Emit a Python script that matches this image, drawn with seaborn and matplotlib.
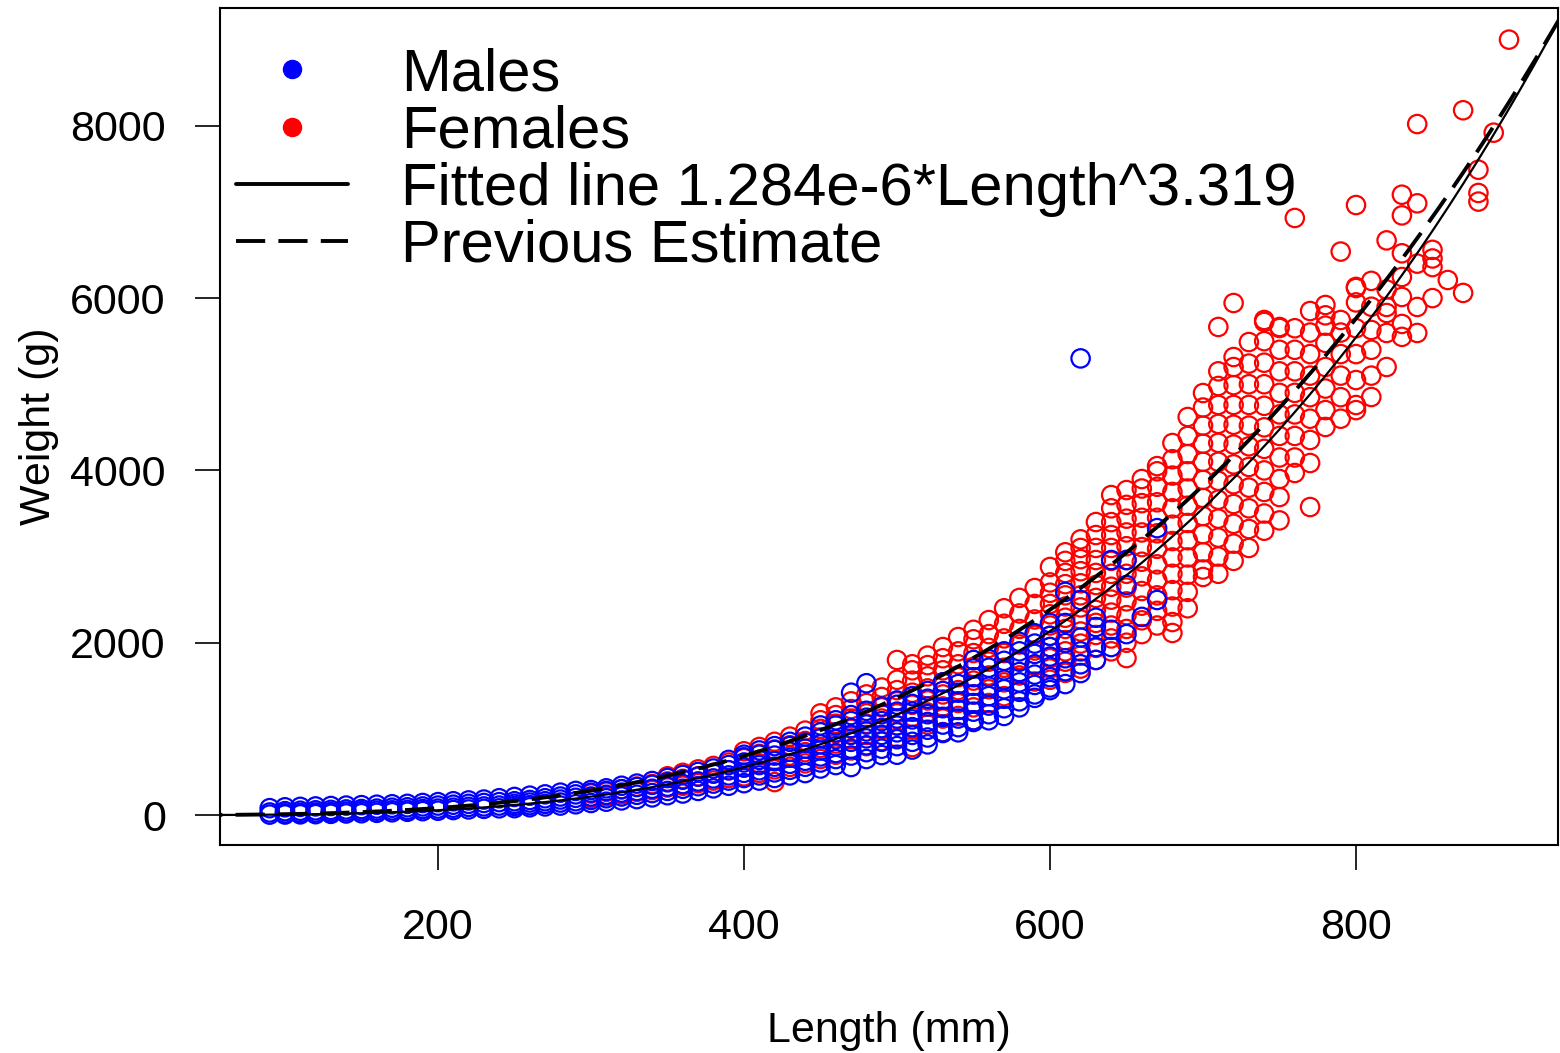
import numpy as np
import pandas as pd
import matplotlib
matplotlib.use("Agg")
import matplotlib.pyplot as plt
from matplotlib.lines import Line2D
import seaborn as sns

# ---------------- data ----------------
male_len = [90, 100, 110, 120, 130, 140, 150, 160, 170, 180, 190, 200, 210, 220, 230, 240,
            250, 260, 270, 280, 290, 300, 310, 320, 330, 340, 350, 360, 370, 380, 390, 400,
            410, 420, 430, 440, 450, 460, 470, 480, 490, 500, 510, 520, 530, 540, 550, 560,
            570, 580, 590, 600, 610, 620, 630, 640, 650, 660, 670]
male_wt = [
    [5, 30, 80], [6, 20, 45, 90], [8, 25, 50, 95], [10, 30, 55, 100], [14, 35, 60, 105],
    [18, 40, 65, 110], [21, 45, 70, 115], [26, 50, 75, 120], [32, 55, 85, 125],
    [38, 60, 90, 130], [45, 70, 100, 140], [50, 75, 110, 150],
    [58, 85, 120, 160], [65, 95, 130, 170], [72, 100, 140, 180], [78, 110, 150, 195],
    [80, 105, 130, 160, 210], [90, 115, 145, 175, 225], [100, 130, 160, 195, 240],
    [110, 145, 180, 215, 260],
    [125, 160, 200, 240, 280], [140, 175, 215, 260, 290], [155, 195, 235, 280, 310],
    [170, 215, 260, 300, 340], [185, 235, 280, 325, 365], [205, 255, 305, 350, 395],
    [230, 280, 330, 380, 430], [250, 305, 360, 410, 465], [280, 335, 390, 445, 500],
    [310, 365, 425, 480, 540], [340, 400, 460, 520, 580, 640],
    [370, 430, 490, 550, 610, 670, 700],
    [400, 460, 520, 580, 640, 700, 750],
    [430, 495, 560, 625, 690, 755, 800],
    [460, 525, 595, 665, 735, 800, 850],
    [487, 560, 630, 700, 770, 840, 910],
    [540, 610, 680, 750, 820, 890, 960, 1040],
    [580, 650, 720, 800, 880, 960, 1040, 1100],
    [557, 690, 770, 850, 930, 1010, 1090, 1160, 1420],
    [650, 730, 810, 890, 970, 1050, 1130, 1210, 1530],
    [696, 770, 850, 930, 1010, 1090, 1170, 1260],
    [700, 800, 880, 960, 1040, 1120, 1200, 1280, 1330],
    [760, 850, 930, 1020, 1110, 1200, 1290, 1380],
    [820, 900, 990, 1080, 1170, 1260, 1350, 1440],
    [952, 960, 1050, 1140, 1240, 1340, 1440, 1540],
    [960, 1020, 1120, 1220, 1320, 1420, 1520, 1620],
    [1080, 1100, 1200, 1300, 1400, 1500, 1600, 1700, 1800],
    [1100, 1170, 1270, 1380, 1490, 1600, 1710, 1810],
    [1150, 1240, 1350, 1460, 1570, 1680, 1790, 1900],
    [1250, 1320, 1430, 1540, 1660, 1780, 1900, 2010],
    [1360, 1400, 1510, 1630, 1750, 1870, 1990, 2110],
    [1450, 1480, 1600, 1720, 1840, 1950, 2080, 2229],
    [1520, 1670, 1820, 1996, 2229, 2590],
    [1648, 1750, 1900, 2060, 2496, 5300], [1800, 1950, 2182, 2290], [1950, 2150, 2960],
    [2100, 2670, 2960], [2300], [2496, 3330],
]

fem_len = [300, 310, 320, 330, 340, 350, 360, 370, 380, 390, 400, 410, 420, 430, 440, 450,
           460, 470, 480, 490, 500, 510, 520, 530, 540, 550, 560, 570, 580, 590, 600, 610,
           620, 630, 640, 650, 660, 670, 680, 690, 700, 710, 720, 730, 740, 750, 760, 770,
           780, 790, 800, 810, 820, 830, 840, 850, 860, 870, 880, 890, 900]
fem_wt = [
    [200, 250], [220, 270], [240, 300], [270, 330], [290, 360], [320, 390, 450],
    [340, 420, 490], [370, 450, 530], [400, 490, 570], [430, 520, 610],
    [450, 560, 660, 740], [490, 600, 710, 790], [383, 530, 640, 760, 850],
    [560, 690, 810, 910], [600, 730, 860, 980],
    [650, 780, 900, 1000, 1100, 1180],
    [700, 830, 950, 1060, 1160, 1250],
    [750, 880, 1000, 1120, 1230, 1320],
    [800, 930, 1060, 1180, 1300, 1400],
    [860, 990, 1120, 1250, 1370, 1480],
    [900, 1040, 1180, 1320, 1450, 1570, 1800],
    [789, 1000, 1140, 1280, 1420, 1560, 1680, 1750],
    [1050, 1190, 1330, 1470, 1610, 1740, 1850],
    [963, 1120, 1260, 1400, 1540, 1680, 1820, 1950],
    [1150, 1300, 1450, 1600, 1750, 1900, 2066],
    [1100, 1250, 1400, 1560, 1720, 1880, 2040, 2150],
    [1300, 1460, 1620, 1780, 1940, 2100, 2263],
    [1380, 1540, 1710, 1880, 2050, 2220, 2400],
    [1450, 1620, 1800, 1980, 2160, 2340, 2520],
    [1550, 1730, 1910, 2090, 2270, 2450, 2635],
    [1570, 1700, 1820, 1950, 2080, 2200, 2330, 2450, 2580, 2700, 2879],
    [1650, 1780, 1900, 2030, 2160, 2290, 2420, 2550, 2680, 2810, 2950, 3050],
    [1700, 1850, 1990, 2130, 2270, 2410, 2550, 2690, 2830, 2970, 3100, 3200],
    [1800, 1940, 2090, 2230, 2380, 2520, 2670, 2810, 2960, 3100, 3250, 3401],
    [1900, 2050, 2200, 2350, 2500, 2650, 2800, 2950, 3100, 3250, 3400, 3560, 3714],
    [1822, 2000, 2160, 2320, 2480, 2640, 2800, 2960, 3120, 3280, 3440, 3600, 3772],
    [2100, 2260, 2430, 2600, 2770, 2940, 3110, 3280, 3450, 3620, 3790, 3900],
    [2200, 2370, 2550, 2730, 2910, 3090, 3270, 3450, 3630, 3810, 3990, 4050],
    [2113, 2240, 2420, 2610, 2800, 2990, 3180, 3370, 3560, 3750, 3940, 4130, 4318],
    [2400, 2590, 2790, 2990, 3190, 3390, 3590, 3790, 3990, 4190, 4400, 4620],
    [2763, 2850, 3050, 3260, 3470, 3680, 3890, 4100, 4310, 4520, 4730, 4898],
    [2800, 3000, 3220, 3440, 3660, 3880, 4100, 4320, 4540, 4760, 4980, 5150, 5665],
    [2950, 3150, 3380, 3610, 3840, 4070, 4300, 4530, 4760, 4990, 5200, 5316, 5943],
    [3100, 3320, 3560, 3800, 4040, 4280, 4520, 4760, 5000, 5240, 5490],
    [3300, 3500, 3750, 4000, 4250, 4500, 4750, 5000, 5250, 5500, 5723, 5746],
    [3420, 3691, 3900, 4150, 4400, 4650, 4900, 5150, 5400, 5653, 5665],
    [3970, 4150, 4400, 4650, 4900, 5150, 5400, 5650, 6930],
    [3575, 4086, 4353, 4600, 4850, 5100, 5350, 5600, 5850],
    [4504, 4700, 4950, 5200, 5480, 5680, 5800, 5920],
    [4600, 4850, 5100, 5350, 5600, 5746, 6540],
    [4700, 4759, 5049, 5350, 5650, 5950, 6117, 6130, 7080],
    [4852, 5100, 5400, 5630, 5900, 6200],
    [5200, 5595, 5827, 5897, 6100, 6670],
    [5550, 5700, 6013, 6245, 6520, 6960, 7200],
    [5595, 5897, 6400, 7100, 8020],
    [6000, 6360, 6460, 6560], [6210], [6060, 8180], [7120, 7220, 7490], [7920], [9000],
]

# length-weight relationships shown as curves (coefficient, exponent)
fit_a, fit_b = 1.284e-6, 3.319
prev_a, prev_b = 7.05e-6, 3.07

labels = ["Males", "Females", "Fitted line 1.284e-6*Length^3.319", "Previous Estimate"]

# ---------------- build tables ----------------
males = pd.DataFrame({"Length": [L for L, ws in zip(male_len, male_wt) for _ in ws],
                      "Weight": [w for ws in male_wt for w in ws]})
females = pd.DataFrame({"Length": [L for L, ws in zip(fem_len, fem_wt) for _ in ws],
                        "Weight": [w for ws in fem_wt for w in ws]})
curve_L = np.linspace(40, 960, 400)
curves = pd.DataFrame({"Length": curve_L,
                       "Fit": fit_a * curve_L ** fit_b,
                       "Prev": prev_a * curve_L ** prev_b})

# ---------------- style ----------------
sns.set_theme(style="white")
plt.rcParams["font.family"] = ["Liberation Sans", "DejaVu Sans"]
for key in ["text.color", "axes.labelcolor", "xtick.color", "ytick.color", "axes.edgecolor"]:
    plt.rcParams[key] = "black"
plt.rcParams["axes.linewidth"] = 1.5

fig, ax = plt.subplots(figsize=(15.6, 10.53), dpi=100)
fig.subplots_adjust(left=0.141, right=0.9987, top=0.9924, bottom=0.1975)

sns.scatterplot(data=females, x="Length", y="Weight", ax=ax, marker="o", s=175,
                facecolor="none", edgecolor="red", linewidth=1.6, legend=False, zorder=2)
sns.scatterplot(data=males, x="Length", y="Weight", ax=ax, marker="o", s=175,
                facecolor="none", edgecolor="blue", linewidth=1.6, legend=False, zorder=3)

dash = (0, (7.5, 3.4))
sns.lineplot(data=curves, x="Length", y="Fit", ax=ax, color="black", lw=1.6,
             estimator=None, sort=False, legend=False, zorder=4)
sns.lineplot(data=curves, x="Length", y="Prev", ax=ax, color="black", lw=2.8,
             linestyle=dash, estimator=None, sort=False, legend=False, zorder=4)

ax.set_xlim(57.5, 932)
ax.set_ylim(-348, 9367)
ax.set_xticks([200, 400, 600, 800])
ax.set_yticks([0, 2000, 4000, 6000, 8000])
ax.tick_params(axis="both", which="major", direction="out", length=18, width=1.2,
               colors="black", labelsize=31, bottom=True, left=True)
ax.tick_params(axis="x", pad=27)
ax.tick_params(axis="y", pad=21)
ax.set_xlabel("Length (mm)", fontsize=31, labelpad=46)
ax.set_ylabel("Weight (g)", fontsize=31, labelpad=8)
for sp in ax.spines.values():
    sp.set_visible(True)
    sp.set_color("black")
    sp.set_linewidth(1.5)

handles = [
    Line2D([], [], marker="o", color="blue", linestyle="none", markersize=13),
    Line2D([], [], marker="o", color="red", linestyle="none", markersize=13),
    Line2D([], [], color="black", lw=2.8),
    Line2D([], [], color="black", lw=2.8, linestyle=dash),
]
ax.legend(handles, labels, loc="upper left", bbox_to_anchor=(0.012, 0.953),
          frameon=False, fontsize=43, handlelength=1.87, handletextpad=0.9,
          labelspacing=0.035, borderaxespad=0, borderpad=0)

fig.savefig("out.png", dpi=100, facecolor="white")
